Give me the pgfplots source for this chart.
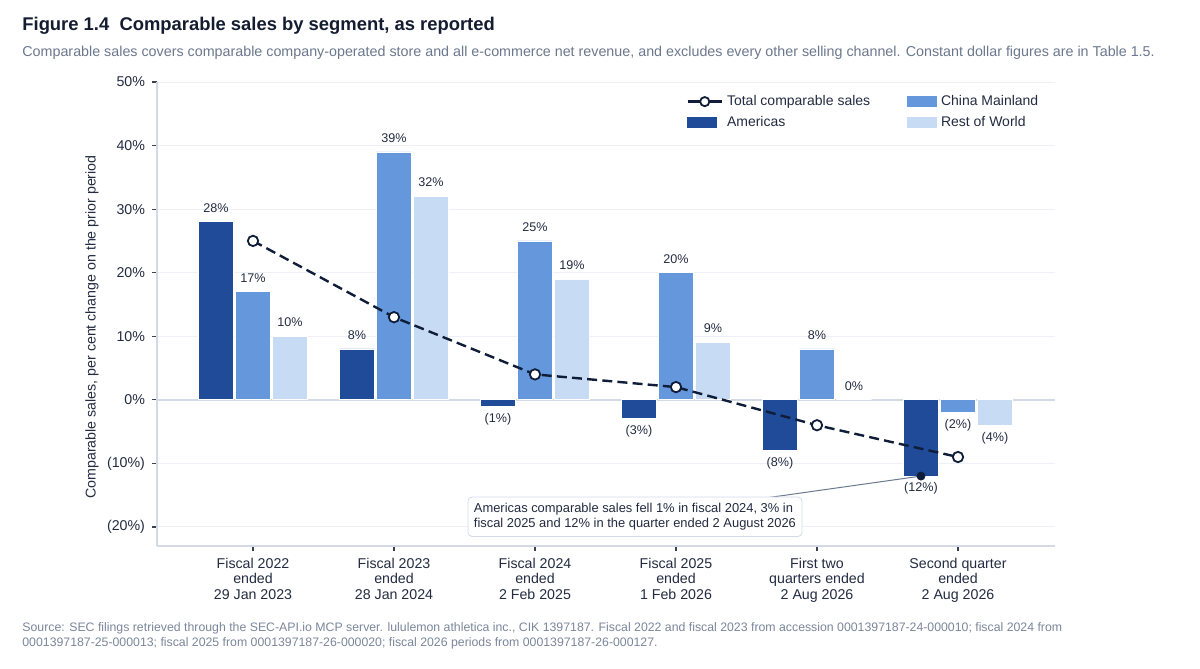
\documentclass[border=0pt]{standalone}
\usepackage{pgfplots}
\pgfplotsset{compat=1.18}
\usepackage{fontspec}
\setmainfont{Liberation Sans}
\definecolor{americas}{HTML}{1F4B99}
\definecolor{china}{HTML}{6597DD}
\definecolor{row}{HTML}{C7DCF4}
\definecolor{navy}{HTML}{0F1D38}
\definecolor{titlec}{HTML}{141C30}
\definecolor{textc}{HTML}{222B40}
\definecolor{subc}{HTML}{6B778C}
\definecolor{srcc}{HTML}{7A869A}
\definecolor{gridc}{HTML}{EDF0F6}
\definecolor{spine}{HTML}{D3DAE6}
\definecolor{tickc}{HTML}{3A4152}
\definecolor{annline}{HTML}{6B7A90}
\begin{document}
\begin{tikzpicture}
\path[use as bounding box] (0,0) rectangle (600pt,334.5pt);
\node[anchor=base west, inner sep=0pt, font=\bfseries\fontsize{9.2}{11}\selectfont, text=titlec] at (11pt,319pt) {Figure 1.4\ \ Comparable sales by segment, as reported};
\node[anchor=base west, inner sep=0pt, font=\fontsize{7.15}{8.5}\selectfont, text=subc] at (11pt,306pt) {Comparable sales covers comparable company-operated store and all e-commerce net revenue, and excludes every other selling channel. Constant dollar figures are in Table 1.5.};
\node[anchor=base west, inner sep=0pt, font=\fontsize{6.15}{7.5}\selectfont, text=srcc, align=left] at (11pt,11pt) {Source: SEC filings retrieved through the SEC-API.io MCP server. lululemon athletica inc., CIK 1397187. Fiscal 2022 and fiscal 2023 from accession 0001397187-24-000010; fiscal 2024 from\\0001397187-25-000013; fiscal 2025 from 0001397187-26-000020; fiscal 2026 periods from 0001397187-26-000127.};
\begin{axis}[
  at={(78.5pt,61.5pt)}, anchor=south west, scale only axis,
  width=449pt, height=232pt,
  xmin=-0.681, xmax=5.688, ymin=-23, ymax=50,
  axis lines*=left,
  axis line style={-, draw=spine, line width=0.6pt},
  tick align=outside, major tick length=2.5pt,
  tick style={draw=tickc, line width=0.6pt},
  ymajorgrids, major grid style={draw=gridc, line width=0.5pt},
  xtick={0,1,2,3,4,5},
  xticklabels={{Fiscal 2022\\ended\\29 Jan 2023},{Fiscal 2023\\ended\\28 Jan 2024},{Fiscal 2024\\ended\\2 Feb 2025},{Fiscal 2025\\ended\\1 Feb 2026},{First two\\quarters ended\\2 Aug 2026},{Second quarter\\ended\\2 Aug 2026}},
  xticklabel style={align=center, font=\fontsize{7.1}{7.8}\selectfont, text=textc},
  ytick={-20,-10,0,10,20,30,40,50},
  yticklabels={(20\%),(10\%),0\%,10\%,20\%,30\%,40\%,50\%},
  yticklabel style={font=\fontsize{7.1}{8.2}\selectfont, text=textc},
  ylabel={Comparable sales, per cent change on the prior period},
  ylabel style={at={(axis description cs:-0.0724,0.472)}, anchor=center, font=\fontsize{7.1}{8.2}\selectfont, text=textc},
  legend style={at={(axis description cs:0.5825,0.99)}, anchor=north west, draw=none, fill=none,
    font=\fontsize{7}{8.4}\selectfont, text=textc, row sep=0pt,
    /tikz/every even column/.append style={column sep=16.5pt}},
  legend columns=2, legend cell align=left,
  nodes near coords align={anchor=center},
  nodes near coords style={font=\fontsize{6.3}{7.5}\selectfont, text=textc, inner sep=0pt},
]
\addlegendimage{navy, line width=1.2pt, mark=*, mark options={solid, fill=white, line width=0.9pt}, mark size=2.3pt}
\addlegendentry{Total comparable sales}
\addlegendimage{legend image code/.code={\fill[china] (0pt,-2.5pt) rectangle (14.5pt,2.5pt);}}
\addlegendentry{China Mainland}
\addlegendimage{legend image code/.code={\fill[americas] (0pt,-2.5pt) rectangle (14.5pt,2.5pt);}}
\addlegendentry{Americas}
\addlegendimage{legend image code/.code={\fill[row] (0pt,-2.5pt) rectangle (14.5pt,2.5pt);}}
\addlegendentry{Rest of World}

\draw[spine, line width=0.8pt] (axis cs:-0.681,0) -- (axis cs:5.688,0);

\addplot[ybar, bar width=17.6pt, bar shift=-18.5pt, fill=americas, draw=white, line width=0.4pt,
  nodes near coords, point meta=explicit symbolic, forget plot,
  visualization depends on={value \thisrow{dy} \as \dy},
  every node near coord/.append style={xshift=-18.5pt, yshift=\dy pt}] table[meta=lab] {
x y lab dy
0 28 28\% 7
1 8 8\% 7
2 -1 (1\%) -6.3
3 -3 (3\%) -6.3
4 -8 (8\%) -6.3
5 -12 (12\%) -6.3
};
\addplot[ybar, bar width=17.6pt, bar shift=0pt, fill=china, draw=white, line width=0.4pt,
  nodes near coords, point meta=explicit symbolic, forget plot,
  visualization depends on={value \thisrow{dy} \as \dy},
  every node near coord/.append style={yshift=\dy pt}] table[meta=lab] {
x y lab dy
0 17 17\% 7
1 39 39\% 7
2 25 25\% 7
3 20 20\% 7
4 8 8\% 7
5 -2 (2\%) -6.3
};
\addplot[ybar, bar width=17.6pt, bar shift=18.5pt, fill=row, draw=white, line width=0.4pt,
  nodes near coords, point meta=explicit symbolic, forget plot,
  visualization depends on={value \thisrow{dy} \as \dy},
  every node near coord/.append style={xshift=18.5pt, yshift=\dy pt}] table[meta=lab] {
x y lab dy
0 10 10\% 7
1 32 32\% 7
2 19 19\% 7
3 9 9\% 7
4 0 0\% 7
5 -4 (4\%) -6.3
};

\addplot[navy, line width=1.2pt, dash pattern=on 5pt off 2.6pt, mark=*,
  mark options={solid, fill=white, draw=navy, line width=0.9pt}, mark size=2.6pt, forget plot]
  coordinates {(0,25) (1,13) (2,4) (3,2) (4,-4) (5,-9)};

\draw[annline, line width=0.5pt] (axis cs:3.596,-15.57) -- (axis cs:4.7376,-12);
\addplot[only marks, mark=*, mark size=2pt, navy, forget plot] coordinates {(4.7376,-12)};
\node[draw=spine, fill=white, rounded corners=2pt, align=left, inner sep=3pt,
  font=\fontsize{6.45}{7.7}\selectfont, text=textc] at (axis cs:2.709,-18.4)
  {Americas comparable sales fell 1\% in fiscal 2024, 3\% in\\fiscal 2025 and 12\% in the quarter ended 2 August 2026};
\end{axis}
\end{tikzpicture}
\end{document}
